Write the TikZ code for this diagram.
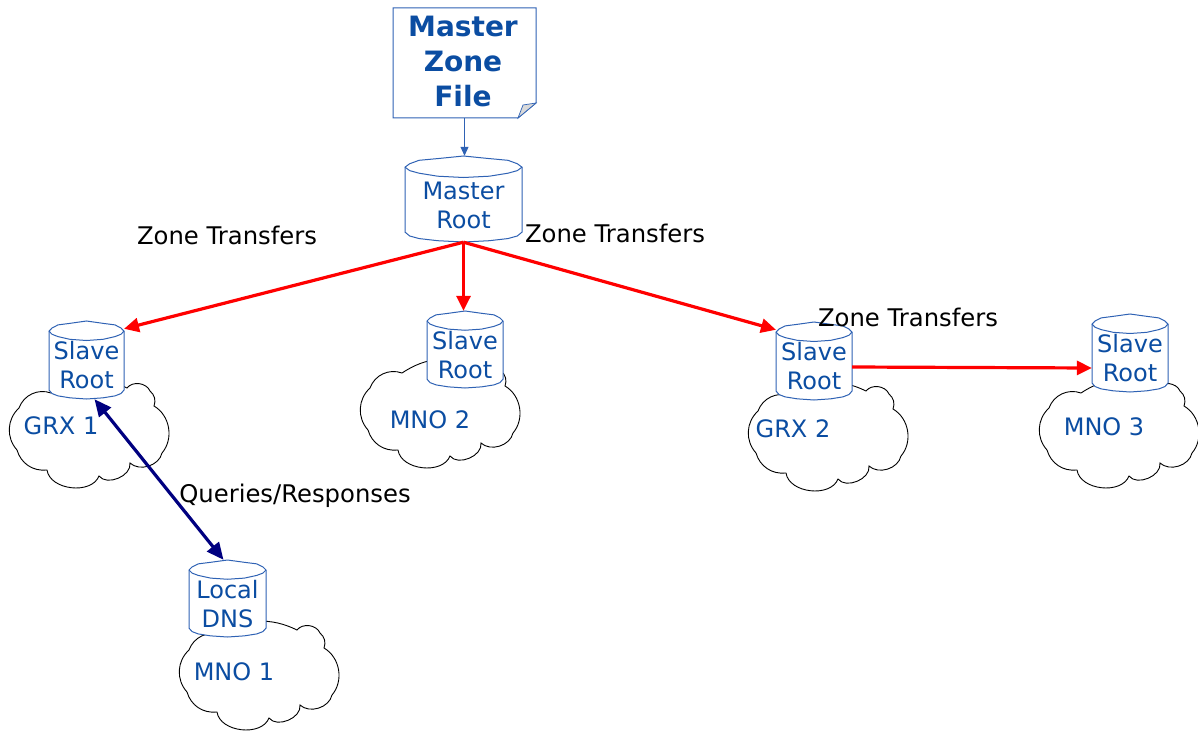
\documentclass[tikz,border=0pt]{standalone}
\usepackage{fontspec}
\setmainfont{DejaVu Sans}
\usetikzlibrary{arrows.meta}
\definecolor{dnsblue}{HTML}{0B4DA2}
\definecolor{edgeblue}{HTML}{2F62B4}
\definecolor{navyarrow}{HTML}{000080}
\tikzset{
  boxtext/.style={text=dnsblue,align=center,font=\fontsize{24}{29}\selectfont},
  plaintext/.style={text=black,font=\fontsize{24.3}{28}\selectfont},
  transfer/.style={-{Triangle[length=15pt,width=14pt]},red,line width=3.2pt},
  query/.style={{Triangle[length=17pt,width=15pt]}-{Triangle[length=17pt,width=15pt]},navyarrow,line width=3.2pt},
}
% cylinder: name, left, top, width, height, text
\newcommand\dbstack[6]{
  \begin{scope}[shift={(#2,#3)},xscale=#4,yscale=#5]
    \draw[edgeblue,fill=white,line width=1pt] (0,0.13) -- (0.04,0.09) -- (0.12,0.05) -- (0.28,0.03) -- (0.5,0)
      -- (0.72,0.03) -- (0.88,0.05) -- (0.96,0.09) -- (1,0.13) -- (1,0.885) -- (0.96,0.93) -- (0.88,0.96)
      -- (0.72,0.985) -- (0.5,1) -- (0.28,0.985) -- (0.12,0.96) -- (0.04,0.93) -- (0,0.885) -- cycle;
    \draw[edgeblue,line width=1pt] (0,0.13) -- (0.04,0.17) -- (0.12,0.2) -- (0.28,0.235) -- (0.5,0.25)
      -- (0.72,0.235) -- (0.88,0.2) -- (0.96,0.17) -- (1,0.13);
    \node[minimum width=#4pt,minimum height=#5pt,inner sep=0pt] (#1) at (0.5,0.5) {};
    \node[boxtext] (#1 text) at (0.5,0.57) {#6};
    \coordinate (#1 topleft) at (0,0.1);
    \coordinate (#1 topright) at (1,0.1);
  \end{scope}
}
% cloud: name, left, top, text, text x, text y
\newcommand\netcloud[6]{
  \begin{scope}[shift={(#2,#3)}]
    \draw[black,fill=white,line width=0.9pt] (39,10) to[bend right=45] (7,25) to[bend right=45] (5,67)
      to[bend right=40] (35,87) to[bend right=75] (87,93) to[bend right=75] (118,80)
      to[bend right=60] (150,70) to[bend right=50] (142,23) to[bend right=35] (138,8)
      to[bend right=60] (115,5) to[bend right=30] (39,10) -- cycle;
    \node[boxtext] (#1) at (#5,#6) {#4};
  \end{scope}
}
\begin{document}
\begin{tikzpicture}[x=1pt,y=-1pt]
  \useasboundingbox (0,0) rectangle (1198,733);
  % clouds
  \netcloud{grxone}{12}{383}{GRX 1}{49}{43}
  \netcloud{mnotwo}{363}{363}{MNO 2}{67}{57}
  \netcloud{grxtwo}{751}{386}{GRX 2}{42}{43}
  \netcloud{mnothree}{1042}{383}{MNO 3}{62}{44}
  \netcloud{mnoone}{182}{625}{MNO 1}{52}{47}
  % zone file
  \draw[edgeblue,fill=white,line width=1pt] (393,8) -- (536,8) -- (536,103) -- (518,118) -- (393,118) -- cycle;
  \draw[edgeblue,fill=black!15,line width=0.7pt] (536,103) -- (523,105) -- (518,118) -- cycle;
  \node[minimum width=143pt,minimum height=110pt,inner sep=0pt] (zonefile) at (464.5,63) {};
  \node[text=dnsblue,align=center,font=\fontsize{28}{35}\selectfont\bfseries] (zonefile text) at (463,61) {Master\\Zone\\File};
  % cylinders
  \dbstack{masterroot}{405}{156}{117}{86}{Master\\Root}
  \dbstack{slaveone}{49}{321}{75}{78}{Slave\\Root}
  \dbstack{slavetwo}{427}{311}{76}{77}{Slave\\Root}
  \dbstack{slavethree}{776}{322}{76}{78}{Slave\\Root}
  \dbstack{slavefour}{1092}{314}{76}{78}{Slave\\Root}
  \dbstack{localdns}{189}{560}{77}{77}{Local\\DNS}
  % connectors
  \draw[-{Triangle[length=9pt,width=8pt]},edgeblue,line width=1pt] (zonefile.south) -- (zonefile.south |- masterroot.north);
  \draw[transfer] (masterroot.south) -- (slaveone topright);
  \draw[transfer] (masterroot.south) -- (masterroot.south |- slavetwo.north);
  \draw[transfer] (masterroot.south) -- (slavethree topleft);
  \draw[transfer] ([yshift=-6pt]slavethree.east) -- ([yshift=-15pt]slavefour.west);
  \draw[query] ([xshift=8pt]slaveone.south) -- ([xshift=-4pt]localdns.north);
  % labels
  \node[plaintext] (transfer left) at (227,235) {Zone Transfers};
  \node[plaintext] (transfer right) at (615,233) {Zone Transfers};
  \node[plaintext] (transfer far) at (908,317) {Zone Transfers};
  \node[plaintext] (query label) at (295,496) {Queries/Responses};
\end{tikzpicture}
\end{document}
